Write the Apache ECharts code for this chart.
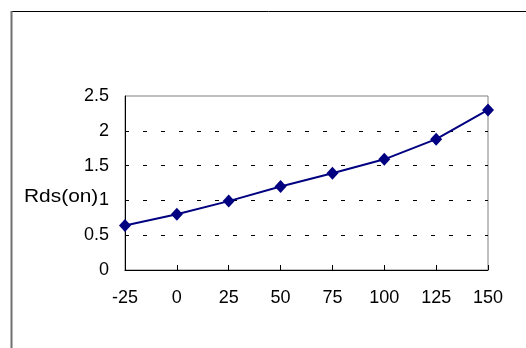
<!DOCTYPE html>
<html>
<head>
<meta charset="utf-8">
<script src="https://cdn.jsdelivr.net/npm/echarts@6/dist/echarts.min.js"></script>
<style>
  html, body { margin: 0; padding: 0; background: #fff; }
  #chart { width: 526px; height: 348px; }
</style>
</head>
<body>
<div id="chart"></div>
<script>
// temperature (x) categories and Rds(on) normalised values
var temps = ['-25', '0', '25', '50', '75', '100', '125', '150'];
var rdsOn = [0.64, 0.80, 0.99, 1.20, 1.39, 1.59, 1.88, 2.30];
var yTicks = [0, 0.5, 1, 1.5, 2, 2.5];

var chart = echarts.init(document.getElementById('chart'));

var option = {
    animation: false,
    backgroundColor: '#fff',
    grid: {
        left: 125,
        right: 38,
        top: 96,
        bottom: 78,
        show: true,
        borderColor: '#808080',
        borderWidth: 1
    },
    xAxis: {
        type: 'category',
        data: temps,
        boundaryGap: false,
        axisLine: { lineStyle: { color: '#000', width: 1 } },
        axisTick: { show: true, inside: true, length: 5, lineStyle: { color: '#000' } },
        axisLabel: {
            color: '#000',
            fontFamily: 'Liberation Sans, Arial, sans-serif',
            fontSize: 18,
            margin: 19
        },
        splitLine: { show: false }
    },
    yAxis: {
        type: 'value',
        min: yTicks[0],
        max: yTicks[yTicks.length - 1],
        interval: 0.5,
        axisLine: { show: true, lineStyle: { color: '#000', width: 1 } },
        axisTick: { show: false },
        axisLabel: {
            color: '#000',
            fontFamily: 'Liberation Sans, Arial, sans-serif',
            fontSize: 18,
            margin: 16
        },
        splitLine: {
            show: true,
            showMinLine: false,
            showMaxLine: false,
            lineStyle: { color: '#000', width: 1, type: [4, 14] }
        }
    },
    series: [{
        type: 'line',
        data: rdsOn,
        symbol: 'diamond',
        symbolSize: [12, 13],
        itemStyle: { color: '#000080' },
        lineStyle: { color: '#000080', width: 2 }
    }],
    graphic: [
        {
            type: 'text',
            left: 24,
            top: 187,
            style: {
                text: 'Rds(on)',
                fill: '#000',
                font: '19px "Liberation Sans", Arial, sans-serif'
            },
            scaleX: 1.1,
            z: 10
        },
        {
            type: 'line',
            shape: { x1: 11, y1: 11.5, x2: 526, y2: 11.5 },
            style: { stroke: '#000', lineWidth: 1 }
        },
        {
            type: 'line',
            shape: { x1: 11.5, y1: 11, x2: 11.5, y2: 348 },
            style: { stroke: '#707070', lineWidth: 2 }
        }
    ]
};

chart.setOption(option);
</script>
</body>
</html>
